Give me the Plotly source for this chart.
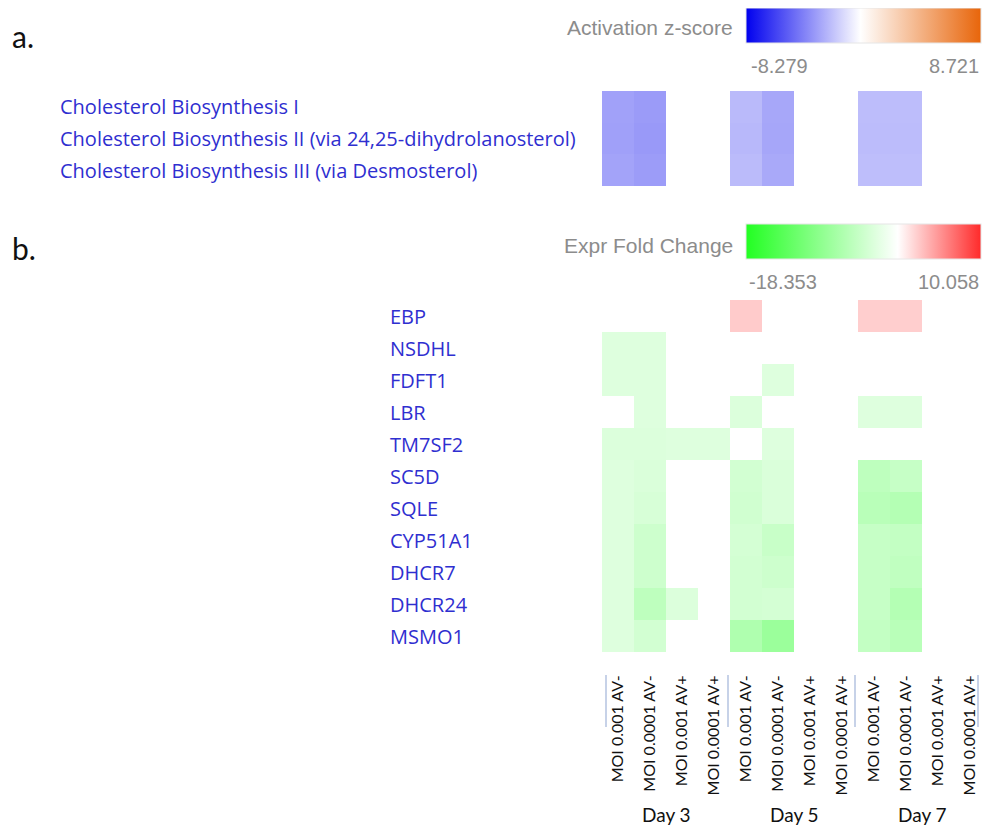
import plotly.graph_objects as go

# Page window is 993x830; the HTML body has an 8px margin, so positions are
# expressed in window pixels and shifted by that margin.
W, H = 993, 830
OFF = 8
nan = None

# ---------------- data ----------------
days = ["Day 3", "Day 5", "Day 7"]
conditions = ["MOI 0.001 AV-", "MOI 0.0001 AV-", "MOI 0.001 AV+", "MOI 0.0001 AV+"]
columns = [c for d in days for c in conditions]

pathways = [
    "Cholesterol Biosynthesis I",
    "Cholesterol Biosynthesis II (via 24,25-dihydrolanosterol)",
    "Cholesterol Biosynthesis III (via Desmosterol)",
]
zscore = [
    [-3.05, -3.25, nan, nan, -2.25, -2.85, nan, nan, -2.15, -2.15, nan, nan],
    [-3.10, -3.30, nan, nan, -2.30, -2.90, nan, nan, -2.18, -2.18, nan, nan],
    [-3.00, -3.20, nan, nan, -2.20, -2.80, nan, nan, -2.12, -2.12, nan, nan],
]
zscore_min, zscore_max = -8.279, 8.721

genes = ["EBP", "NSDHL", "FDFT1", "LBR", "TM7SF2", "SC5D", "SQLE",
         "CYP51A1", "DHCR7", "DHCR24", "MSMO1"]
fold_change = [
    [nan, nan, nan, nan, 2.45, nan, nan, nan, 2.30, 2.30, nan, nan],
    [-2.74, -2.74, nan, nan, nan, nan, nan, nan, nan, nan, nan, nan],
    [-2.74, -2.74, nan, nan, nan, -2.74, nan, nan, nan, nan, nan, nan],
    [nan, -2.74, nan, nan, -2.90, nan, nan, nan, -2.74, -2.74, nan, nan],
    [-2.90, -2.90, -2.74, -2.74, nan, -2.74, nan, nan, nan, nan, nan, nan],
    [-2.74, -3.07, nan, nan, -3.74, -3.07, nan, nan, -5.40, -4.73, nan, nan],
    [-2.74, -3.32, nan, nan, -3.90, -3.07, nan, nan, -5.81, -6.23, nan, nan],
    [-2.74, -4.15, nan, nan, -3.57, -4.57, nan, nan, -4.73, -4.98, nan, nan],
    [-2.74, -4.15, nan, nan, -3.74, -4.15, nan, nan, -4.73, -5.23, nan, nan],
    [-2.74, -5.40, -2.90, nan, -3.74, -3.57, nan, nan, -4.73, -6.23, nan, nan],
    [-2.74, -3.74, nan, nan, -6.64, -8.30, nan, nan, -4.98, -5.81, nan, nan],
]
fc_min, fc_max = -18.353, 10.058

# ---------------- helpers ----------------
def px(x):
    return (x - OFF) / W

def py(y):
    return 1 - (y - OFF) / H

LABEL_BLUE = "#2f2fd0"
GREY = "#8c8c8c"
LABEL_FONT = "Open Sans"
AXIS_FONT = "Lato"
CB_FONT = "Liberation Sans"

xcols = list(range(len(columns)))

z_white = (0 - zscore_min) / (zscore_max - zscore_min)
fc_white = (0 - fc_min) / (fc_max - fc_min)

fig = go.Figure()

fig.add_trace(go.Heatmap(
    z=zscore, x=xcols, y=list(range(len(pathways))),
    zmin=zscore_min, zmax=zscore_max,
    colorscale=[[0, "#0000ee"], [z_white, "#ffffff"], [1, "#e8650a"]],
    xaxis="x", yaxis="y", hoverongaps=False,
    colorbar=dict(orientation="h", x=px(864), xanchor="center", y=py(26), yanchor="middle",
                  lenmode="pixels", len=235, thicknessmode="pixels", thickness=35,
                  outlinewidth=1, outlinecolor="#e6e6e6", showticklabels=False, ticks="",
                  xpad=0, ypad=0),
))

fig.add_trace(go.Heatmap(
    z=fold_change, x=xcols, y=list(range(len(genes))),
    zmin=fc_min, zmax=fc_max,
    colorscale=[[0, "#22ff22"], [fc_white, "#ffffff"], [1, "#ff2a2a"]],
    xaxis="x2", yaxis="y2", hoverongaps=False,
    colorbar=dict(orientation="h", x=px(864), xanchor="center", y=py(241.5), yanchor="middle",
                  lenmode="pixels", len=235, thicknessmode="pixels", thickness=35,
                  outlinewidth=1, outlinecolor="#e6e6e6", showticklabels=False, ticks="",
                  xpad=0, ypad=0),
))

annotations = []
# panel letters
annotations.append(dict(text="a.", x=px(10), y=py(36), xref="paper", yref="paper",
                        xanchor="left", yanchor="middle", showarrow=False,
                        font=dict(family=AXIS_FONT, size=30, color="#111")))
annotations.append(dict(text="b.", x=px(10), y=py(248), xref="paper", yref="paper",
                        xanchor="left", yanchor="middle", showarrow=False,
                        font=dict(family=AXIS_FONT, size=30, color="#111")))
# colorbar texts
for title, yy, lo, hi, lox, ly in [
    ("Activation z-score", 28, zscore_min, zscore_max, 779, 66),
    ("Expr Fold Change", 245, fc_min, fc_max, 783, 282),
]:
    annotations.append(dict(text=title, x=px(735), y=py(yy), xref="paper", yref="paper",
                            xanchor="right", yanchor="middle", showarrow=False,
                            font=dict(family=CB_FONT, size=21, color=GREY)))
    annotations.append(dict(text=f"{lo:.3f}", x=px(lox), y=py(ly), xref="paper", yref="paper",
                            xanchor="center", yanchor="middle", showarrow=False,
                            font=dict(family=CB_FONT, size=20, color=GREY)))
    annotations.append(dict(text=f"{hi:.3f}", x=px(981), y=py(ly), xref="paper", yref="paper",
                            xanchor="right", yanchor="middle", showarrow=False,
                            font=dict(family=CB_FONT, size=20, color=GREY)))
# row labels
for i, name in enumerate(pathways):
    annotations.append(dict(text=name, x=px(58), y=i, xref="paper", yref="y",
                            xanchor="left", yanchor="middle", showarrow=False,
                            font=dict(family=LABEL_FONT, size=20, color=LABEL_BLUE)))
for i, name in enumerate(genes):
    annotations.append(dict(text=name, x=px(388), y=i, xref="paper", yref="y2",
                            xanchor="left", yanchor="middle", showarrow=False,
                            font=dict(family=LABEL_FONT, size=20, color=LABEL_BLUE)))
# day labels
n = len(conditions)
for k, d in enumerate(days):
    annotations.append(dict(text=d, x=k * n + (n - 1) / 2, y=py(814), xref="x2", yref="paper",
                            xanchor="center", yanchor="middle", showarrow=False,
                            font=dict(family=AXIS_FONT, size=19, color="#111")))

# group separator lines under the column labels
shapes = []
for xs in [606, 728, 855, 978]:
    shapes.append(dict(type="line", xref="paper", yref="paper", x0=px(xs), x1=px(xs),
                       y0=py(675), y1=py(727), line=dict(color="#b4c3e0", width=1.5)))

fig.update_layout(
    width=W, height=H,
    margin=dict(l=0, r=0, t=0, b=0),
    paper_bgcolor="white", plot_bgcolor="white",
    showlegend=False,
    annotations=annotations, shapes=shapes,
    xaxis=dict(domain=[px(602), px(986)], range=[-0.5, 11.5], visible=False, anchor="y"),
    yaxis=dict(domain=[py(186), py(91)], range=[2.5, -0.5], visible=False, anchor="x"),
    xaxis2=dict(domain=[px(602), px(986)], range=[-0.5, 11.5], anchor="y2",
                tickmode="array", tickvals=xcols, ticktext=columns, tickangle=-90,
                ticks="outside", ticklen=16, tickcolor="rgba(0,0,0,0)",
                showgrid=False, zeroline=False, showline=False,
                tickfont=dict(family=AXIS_FONT, size=16, color="#111")),
    yaxis2=dict(domain=[py(652), py(300)], range=[10.5, -0.5], visible=False, anchor="x2"),
)

fig.write_html("out.html")
